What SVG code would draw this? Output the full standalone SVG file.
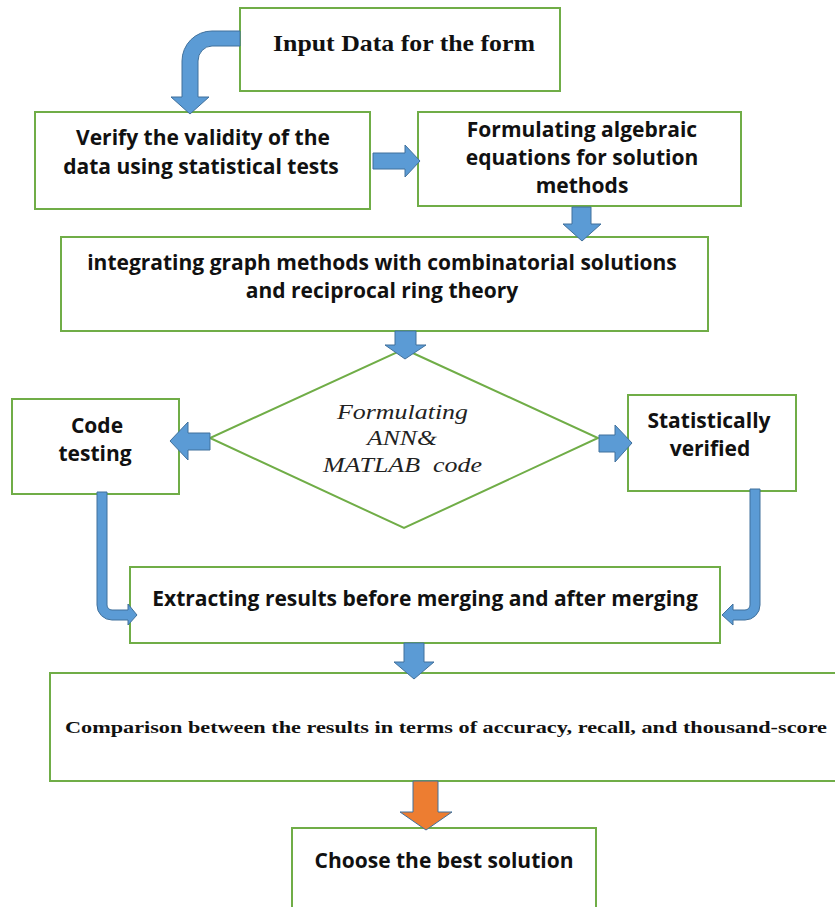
<svg xmlns="http://www.w3.org/2000/svg" width="835" height="907" viewBox="0 0 835 907">
<style>
.box{fill:#fff;stroke:#70AD47;stroke-width:2}
.arr{fill:#5B9BD5;stroke:#41719C;stroke-width:1}
.org{fill:#ED7D31;stroke:#41719C;stroke-width:1}
.sans{font-family:"Open Sans","Liberation Sans",sans-serif;font-weight:bold;font-size:21px;fill:#111;text-anchor:middle}
.serif{font-family:"Liberation Serif","DejaVu Serif",serif;font-weight:bold;fill:#111}
.ital{font-family:"Liberation Serif","DejaVu Serif",serif;font-style:italic;font-size:21px;fill:#222}
</style>
<rect width="835" height="907" fill="#fff"/>
<g id="input">
<rect class="box" x="240" y="8" width="320" height="83"/>
<text class="serif" x="273" y="51" font-size="23" textLength="262" lengthAdjust="spacingAndGlyphs">Input Data for the form</text>
</g>
<g id="verify">
<rect class="box" x="35" y="112" width="335" height="97"/>
<text class="sans" x="203" y="145">Verify the validity of the</text>
<text class="sans" x="201" y="174">data using statistical tests</text>
</g>
<g id="formulating">
<rect class="box" x="418" y="112" width="323" height="94"/>
<text class="sans" x="582" y="137">Formulating algebraic</text>
<text class="sans" x="582" y="165">equations for solution</text>
<text class="sans" x="582" y="193">methods</text>
</g>
<g id="integrating">
<rect class="box" x="61" y="237" width="647" height="94"/>
<text class="sans" x="382" y="270">integrating graph methods with combinatorial solutions</text>
<text class="sans" x="382" y="298">and reciprocal ring theory</text>
</g>
<g id="decision">
<polygon class="box" points="404,349 598,438 404,528 210,438" stroke-width="1.5"/>
<text class="ital" x="337" y="419" textLength="131" lengthAdjust="spacingAndGlyphs">Formulating</text>
<text class="ital" x="367" y="445" textLength="70" lengthAdjust="spacingAndGlyphs">ANN&amp;</text>
<text class="ital" x="323" y="472" textLength="159" lengthAdjust="spacingAndGlyphs">MATLAB&#160; code</text>
</g>
<g id="code-testing">
<rect class="box" x="12" y="399" width="167" height="95"/>
<text class="sans" x="97" y="433">Code</text>
<text class="sans" x="95" y="461">testing</text>
</g>
<g id="statistically">
<rect class="box" x="628" y="395" width="168" height="96"/>
<text class="sans" x="709" y="428">Statistically</text>
<text class="sans" x="710" y="456">verified</text>
</g>
<g id="extracting">
<rect class="box" x="130" y="567" width="590" height="76"/>
<text class="sans" x="425" y="606">Extracting results before merging and after merging</text>
</g>
<g id="comparison">
<rect class="box" x="50" y="673" width="800" height="108"/>
<text class="serif" x="65" y="733" font-size="17" textLength="762" lengthAdjust="spacingAndGlyphs">Comparison between the results in terms of accuracy, recall, and thousand-score</text>
</g>
<g id="choose">
<rect class="box" x="292" y="828" width="304" height="100"/>
<text class="sans" x="444" y="868">Choose the best solution</text>
</g>
<g id="connectors">
<path class="arr" d="M240,31 L212,31 A30,30 0 0 0 182,61 L182,97 L171,97 L190,114 L209,97 L198,97 L198,61 A14,15 0 0 1 212,46 L240,46 Z"/>
<path class="arr" d="M373,153 L405,153 L405,145 L420,161 L405,177 L405,169 L373,169 Z"/>
<path class="arr" d="M572,207 L591,207 L591,224 L601,224 L582,241 L563,224 L572,224 Z"/>
<path class="arr" d="M395,331 L416,331 L416,345 L426,345 L405,359 L385,345 L395,345 Z"/>
<path class="arr" d="M210,433 L188,433 L188,422 L170,441 L188,460 L188,450 L210,450 Z"/>
<path class="arr" d="M599,435 L615,435 L615,425 L632,443 L615,462 L615,452 L599,452 Z"/>
<path class="arr" d="M97,492 L97,605 A15,15 0 0 0 112,620 L128,620 L128,625 L137,615 L128,604 L128,610 L112,610 A5,5 0 0 1 107,605 L107,492 Z"/>
<path class="arr" d="M760,489 L760,605 A15,15 0 0 1 745,620 L733,620 L733,625 L722,615 L733,604 L733,610 L745,610 A5,5 0 0 0 750,605 L750,489 Z"/>
<path class="arr" d="M404,643 L424,643 L424,662 L434,662 L414,679 L394,662 L404,662 Z"/>
<path class="org" d="M413,781 L438,781 L438,812 L452,812 L426,830 L400,812 L413,812 Z"/>
</g>
</svg>
